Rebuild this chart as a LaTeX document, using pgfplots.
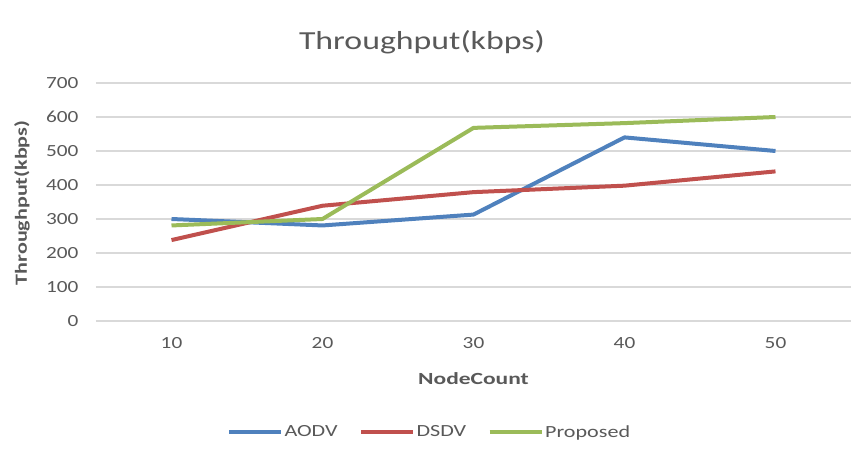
\documentclass[border=0pt]{standalone}
\usepackage{fontspec}
\setmainfont[FakeStretch=1.3]{Carlito}
\newfontfamily\tickfont[FakeStretch=1.25]{Carlito}
\newfontfamily\xlabfont[FakeStretch=1.38]{Carlito}
\usepackage{pgfplots}
\pgfplotsset{compat=1.18}
\definecolor{aodv}{HTML}{4F81BD}
\definecolor{dsdv}{HTML}{C0504D}
\definecolor{prop}{HTML}{9BBB59}
\definecolor{txt}{HTML}{595959}
\definecolor{grd}{HTML}{D9D9D9}
\begin{document}
\begin{tikzpicture}[x=1pt,y=1pt]
\useasboundingbox (0,0) rectangle (868,457);
\node[text=txt, font=\fontsize{26}{29}\selectfont] at (422,415) {Throughput(kbps)};
\begin{axis}[
  at={(96pt,136pt)}, anchor=south west,
  scale only axis, width=755pt, height=238pt,
  xmin=-0.5, xmax=4.5, ymin=0, ymax=700,
  xtick={0,1,2,3,4}, xticklabels={10,20,30,40,50},
  ytick={0,100,...,700},
  axis line style={draw=none},
  tick style={draw=none},
  ymajorgrids, major grid style={grd, line width=1.3pt},
  /pgf/number format/assume math mode=true,
  tick label style={text=txt, font=\tickfont\fontsize{17}{19}\selectfont},
  yticklabel style={xshift=-14pt},
  xticklabel style={yshift=-13pt},
  xlabel={NodeCount}, ylabel={Throughput(kbps)},
  label style={text=txt, font=\bfseries\fontsize{17}{19}\selectfont},
  xlabel style={at={(axis description cs:0.5,-0.24)}, anchor=center, font=\xlabfont\bfseries\fontsize{17}{19}\selectfont},
  ylabel style={at={(axis description cs:-0.098,0.496)}, anchor=center},
  legend columns=3,
  legend style={draw=none, at={(axis description cs:0.4415,-0.466)}, anchor=center,
    font=\fontsize{17}{19}\selectfont, text=txt,
    /tikz/every even column/.append style={column sep=20pt},
    nodes={inner xsep=1.5pt}},
  legend image code/.code={\draw[#1, line width=4pt] (0pt,0pt) -- (52pt,0pt);},
  every axis plot/.append style={line width=4pt, line join=round},
]
\addplot[aodv] coordinates {(0,300) (1,281) (2,313) (3,540) (4,500)};
\addplot[dsdv] coordinates {(0,238) (1,339) (2,379) (3,398) (4,440)};
\addplot[prop] coordinates {(0,281) (1,300) (2,568) (3,582) (4,600)};
\legend{AODV,DSDV,Proposed}
\end{axis}
\end{tikzpicture}
\end{document}
